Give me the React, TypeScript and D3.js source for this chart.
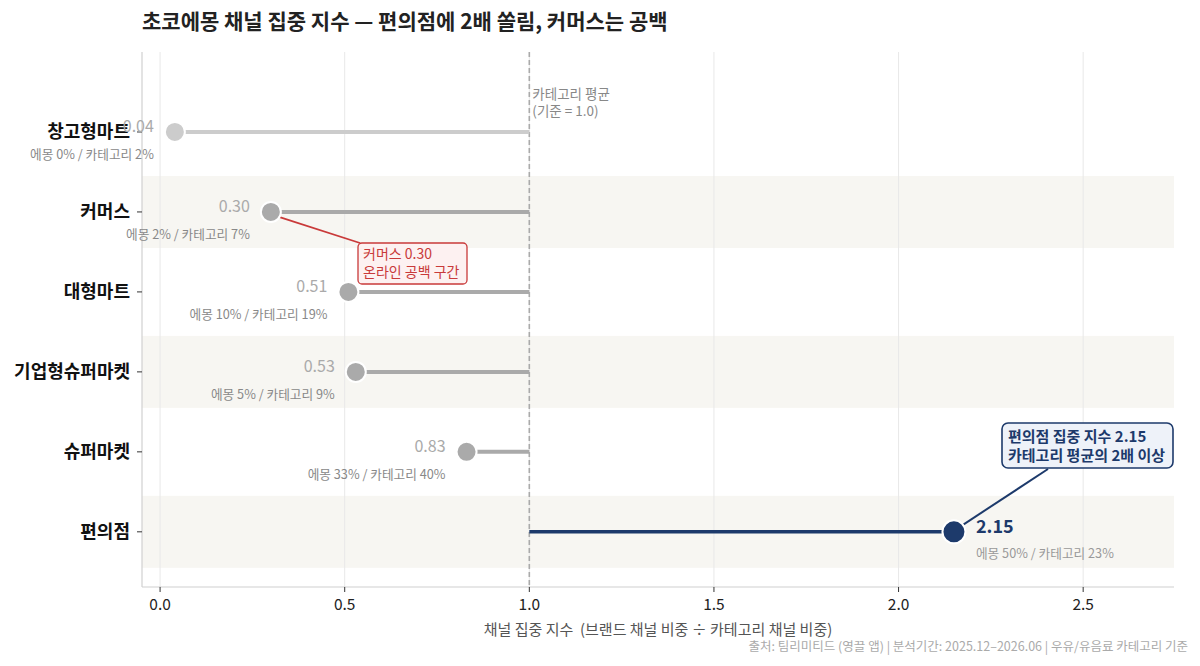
import React from "react";
import * as d3 from "d3";

const channels = ["창고형마트", "커머스", "대형마트", "기업형슈퍼마켓", "슈퍼마켓", "편의점"];
const indexValues = [0.04, 0.3, 0.51, 0.53, 0.83, 2.15];
const brandShare = [0, 2, 10, 5, 33, 50];
const categoryShare = [2, 7, 19, 9, 40, 23];
const xTicks = [0, 0.5, 1.0, 1.5, 2.0, 2.5];
const baseline = 1.0;

const W = 1200;
const H = 666;
const FONT = "'Noto Sans CJK KR', 'Noto Sans', sans-serif";
const NAVY = "#1d3a6b";
const RED = "#c93a3a";

export default function App() {
  const left = 142, right = 1174, top = 52, bottom = 587;
  const x = d3.scaleLinear().domain([-0.049, 2.746]).range([left, right]);
  const y = d3.scaleLinear().domain([-1, 5.69]).range([top, bottom]);
  const rowH = y(1) - y(0);

  return (
    <svg width={W} height={H} style={{ position: "absolute", left: 0, top: 0, fontFamily: FONT, background: "#fff" }}>
      <rect x={0} y={0} width={W} height={H} fill="#fff" />
      {/* title */}
      <text x={142} y={29} fontSize={21} fontWeight={700} fill="#222">
        초코에몽 채널 집중 지수 — 편의점에 2배 쏠림, 커머스는 공백
      </text>

      {/* alternating bands */}
      {channels.map((c, i) =>
        i % 2 === 1 ? (
          <rect key={"b" + c} x={left} y={y(i) - rowH * 0.45} width={right - left} height={rowH * 0.9} fill="#f7f6f2" />
        ) : null
      )}

      {/* grid */}
      {xTicks.map((t) => (
        <line key={"g" + t} x1={x(t)} x2={x(t)} y1={top} y2={bottom} stroke="#e8e8e8" strokeWidth={1} />
      ))}

      {/* axes */}
      <line x1={left} x2={left} y1={top} y2={bottom} stroke="#d0d0d0" strokeWidth={1.2} />
      <line x1={left} x2={right} y1={bottom} y2={bottom} stroke="#d0d0d0" strokeWidth={1.2} />
      {xTicks.map((t) => (
        <g key={"t" + t}>
          <line x1={x(t)} x2={x(t)} y1={bottom} y2={bottom + 5} stroke="#333" strokeWidth={1} />
          <text x={x(t)} y={610} fontSize={15.5} textAnchor="middle" fill="#222">
            {d3.format(".1f")(t)}
          </text>
        </g>
      ))}
      <text x={(left + right) / 2} y={635} fontSize={15} textAnchor="middle" fill="#555" style={{ whiteSpace: "pre" }}>
        {"채널 집중 지수  (브랜드 채널 비중 ÷ 카테고리 채널 비중)"}
      </text>
      <text x={1188} y={651} fontSize={12.5} textAnchor="end" fill="#aaa">
        출처: 팀리미티드 (영끌 앱) | 분석기간: 2025.12–2026.06 | 우유/유음료 카테고리 기준
      </text>

      {/* y labels */}
      {channels.map((c, i) => (
        <g key={"y" + c}>
          <line x1={left - 5} x2={left} y1={y(i)} y2={y(i)} stroke="#333" strokeWidth={1} />
          <text x={130} y={y(i) + 6.5} fontSize={18} fontWeight={700} textAnchor="end" fill="#111">
            {c}
          </text>
        </g>
      ))}

      {/* baseline */}
      <line x1={x(baseline)} x2={x(baseline)} y1={top} y2={bottom} stroke="#aaa" strokeWidth={1.6} strokeDasharray="5,3" />
      <text x={x(baseline) + 3} y={99} fontSize={13.5} fill="#888">카테고리 평균</text>
      <text x={x(baseline) + 3} y={115.5} fontSize={13.5} fill="#888">(기준 = 1.0)</text>

      {/* lollipops */}
      {channels.map((c, i) => {
        const v = indexValues[i];
        const hi = i === channels.length - 1;
        const col = hi ? NAVY : i === 0 ? "#cccccc" : "#aaaaaa";
        return (
          <g key={"l" + c}>
            <line x1={x(baseline)} x2={x(v)} y1={y(i)} y2={y(i)} stroke={col} strokeWidth={hi ? 3.5 : 4} />
          </g>
        );
      })}

      {/* annotation leaders */}
      <line x1={x(indexValues[1]) + 8} y1={y(1) + 5} x2={360} y2={243} stroke={RED} strokeWidth={1.8} />
      <line x1={x(indexValues[5]) + 9} y1={y(5) - 7} x2={1048} y2={469} stroke={NAVY} strokeWidth={2} />

      {channels.map((c, i) => {
        const v = indexValues[i];
        const hi = i === channels.length - 1;
        const col = hi ? NAVY : i === 0 ? "#cccccc" : "#aaaaaa";
        const cx = x(v);
        const cy = y(i);
        return (
          <g key={"d" + c}>
            <circle cx={cx} cy={cy} r={hi ? 11.5 : 10} fill={col} stroke="#fff" strokeWidth={2} />
            {hi ? (
              <>
                <text x={cx + 22} y={cy + 1.5} fontSize={18} fontWeight={700} fill={NAVY}>
                  {d3.format(".2f")(v)}
                </text>
                <text x={cx + 22} y={cy + 26} fontSize={12.7} fill="#999">
                  {`에몽 ${brandShare[i]}% / 카테고리 ${categoryShare[i]}%`}
                </text>
              </>
            ) : (
              <>
                <text x={cx - 21} y={cy} fontSize={16} textAnchor="end" fill="#aaa">
                  {d3.format(".2f")(v)}
                </text>
                <text x={cx - 21} y={cy + 27} fontSize={12.7} textAnchor="end" fill="#888">
                  {`에몽 ${brandShare[i]}% / 카테고리 ${categoryShare[i]}%`}
                </text>
              </>
            )}
          </g>
        );
      })}

      {/* annotation boxes */}
      <rect x={358} y={243} width={109} height={41} rx={4} fill="#fdf1f1" stroke={RED} strokeWidth={1.3} />
      <text x={363} y={259} fontSize={14} fill={RED}>커머스 0.30</text>
      <text x={363} y={277} fontSize={14} fill={RED}>온라인 공백 구간</text>

      <rect x={1002} y={423} width={171} height={45} rx={6} fill="#eef2f9" stroke={NAVY} strokeWidth={1.6} />
      <text x={1008} y={442} fontSize={15} fontWeight={700} fill={NAVY}>편의점 집중 지수 2.15</text>
      <text x={1008} y={461} fontSize={15} fontWeight={700} fill={NAVY}>카테고리 평균의 2배 이상</text>
    </svg>
  );
}
